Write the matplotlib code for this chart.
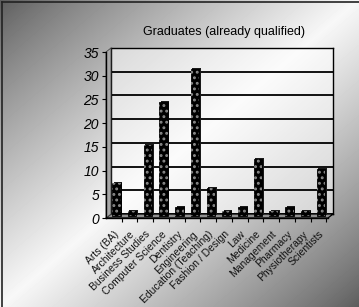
import numpy as np
import matplotlib
matplotlib.use("Agg")
import matplotlib.pyplot as plt
from matplotlib.patches import Polygon
from matplotlib.lines import Line2D
from matplotlib.transforms import offset_copy

OUTPUT_IMG = "out.png"

# data
CATEGORIES = [
    "Arts (BA)",
    "Architecture",
    "Business Studies",
    "Computer Science",
    "Dentistry",
    "Engineering",
    "Education (Teaching)",
    "Fashion / Design",
    "Law",
    "Medicine",
    "Management",
    "Pharmacy",
    "Physiotherapy",
    "Scientists",
]
GRADUATES = [7, 1, 15, 24, 2, 31, 6, 1, 2, 12, 1, 2, 1, 10]
Y_TICKS = [0, 5, 10, 15, 20, 25, 30, 35]
TITLE = "Graduates (already qualified)"

W, H, DPI = 359, 307, 100
# front plane of the pseudo-3D plot, in pixels from top-left
FRONT_L, FRONT_R, FRONT_TOP, FRONT_BOT = 106, 328, 52, 218
DEPTH_X, DEPTH_Y = 5, 4  # back wall offset in pixels

plt.rcParams["font.family"] = ["Liberation Sans", "DejaVu Sans"]
plt.rcParams["hatch.linewidth"] = 1.3


def fig_box(l, r, top, bot):
    return [l / W, 1 - bot / H, (r - l) / W, (bot - top) / H]


def make_chart():
    fig = plt.figure(figsize=(W / DPI, H / DPI), dpi=DPI)

    # diagonal grey -> white -> grey background
    bg = fig.add_axes([0, 0, 1, 1], zorder=-10)
    xx, yy = np.meshgrid(np.linspace(0, 1, W), np.linspace(0, 1, H))
    t = (xx + yy) / 2
    shade = 0.36 + 0.61 * (1 - np.abs(2 * t - 1)) ** 0.85
    bg.imshow(shade, cmap="gray", vmin=0, vmax=1, aspect="auto",
              extent=[0, 1, 0, 1], origin="upper")
    bg.axis("off")

    # frame on left and top
    fig.add_artist(Line2D([2 / W, 2 / W], [0, 1 - 2 / H], color="#222222", lw=1.2))
    fig.add_artist(Line2D([2 / W, 1], [1 - 2 / H, 1 - 2 / H], color="#222222", lw=1.2))

    # back wall with gridlines
    back = fig.add_axes(fig_box(FRONT_L + DEPTH_X, FRONT_R + DEPTH_X,
                                FRONT_TOP - DEPTH_Y, FRONT_BOT - DEPTH_Y))
    back.set_facecolor((1, 1, 1, 0.55))
    back.set_xlim(-0.5, 13.6)
    back.set_ylim(0, 35)
    back.set_xticks([])
    back.set_yticks(Y_TICKS)
    back.tick_params(left=False, labelleft=False)
    back.grid(axis="y", color="black", lw=1.3)
    for sp in back.spines.values():
        sp.set_linewidth(1.0)

    # floor and left side wall
    fl, fr = FRONT_L / W, FRONT_R / W
    fb, ft = 1 - FRONT_BOT / H, 1 - FRONT_TOP / H
    dx, dy = DEPTH_X / W, DEPTH_Y / H
    floor = Polygon([(fl, fb), (fr, fb), (fr + dx, fb + dy), (fl + dx, fb + dy)],
                    closed=True, transform=fig.transFigure,
                    facecolor="#8f8f8f", edgecolor="black", lw=0.9, zorder=1)
    wall = Polygon([(fl, fb), (fl, ft), (fl + dx, ft + dy), (fl + dx, fb + dy)],
                   closed=True, transform=fig.transFigure,
                   facecolor="#a8a8a8", edgecolor="#444444", lw=0.6, zorder=1)
    fig.add_artist(floor)
    fig.add_artist(wall)

    # front axes: bars, ticks and labels
    ax = fig.add_axes(fig_box(FRONT_L, FRONT_R, FRONT_TOP, FRONT_BOT), zorder=2)
    ax.patch.set_alpha(0)
    ax.set_xlim(-0.5, 13.6)
    ax.set_ylim(0, 35)
    x = np.arange(len(CATEGORIES))

    mid = offset_copy(ax.transData, fig=fig, x=2.5, y=2, units="dots")
    side = offset_copy(ax.transData, fig=fig, x=4, y=3, units="dots")
    ax.bar(x, GRADUATES, width=0.55, color="#1a1a1a", transform=side, zorder=2)
    ax.bar(x, GRADUATES, width=0.55, color="black", edgecolor="black",
           lw=0.6, transform=mid, zorder=3)
    ax.bar(x, GRADUATES, width=0.55, color="none", edgecolor="#8a8a8a",
           lw=0, hatch="...", transform=mid, zorder=4)

    for sp in ["top", "right"]:
        ax.spines[sp].set_visible(False)
    ax.spines["left"].set_linewidth(1.0)
    ax.spines["bottom"].set_linewidth(1.0)

    ax.set_yticks(Y_TICKS)
    ax.set_yticklabels([str(v) for v in Y_TICKS], fontsize=10, style="italic")
    ax.tick_params(axis="y", direction="out", length=3, width=0.8, pad=2)

    ax.set_xticks(x)
    ax.set_xticklabels(CATEGORIES, rotation=45, ha="right", va="top",
                       rotation_mode="anchor", fontsize=7.5, color="#111111")
    ax.tick_params(axis="x", which="major", length=0, pad=8)
    ax.set_xticks(np.arange(len(CATEGORIES)) + 0.5, minor=True)
    ax.tick_params(axis="x", which="minor", direction="out", length=3, width=0.8)

    fig.text(224 / W, 1 - 32 / H, TITLE, ha="center", va="center", fontsize=9)

    fig.savefig(OUTPUT_IMG, dpi=DPI)
    plt.close(fig)


def main():
    make_chart()


if __name__ == "__main__":
    main()
